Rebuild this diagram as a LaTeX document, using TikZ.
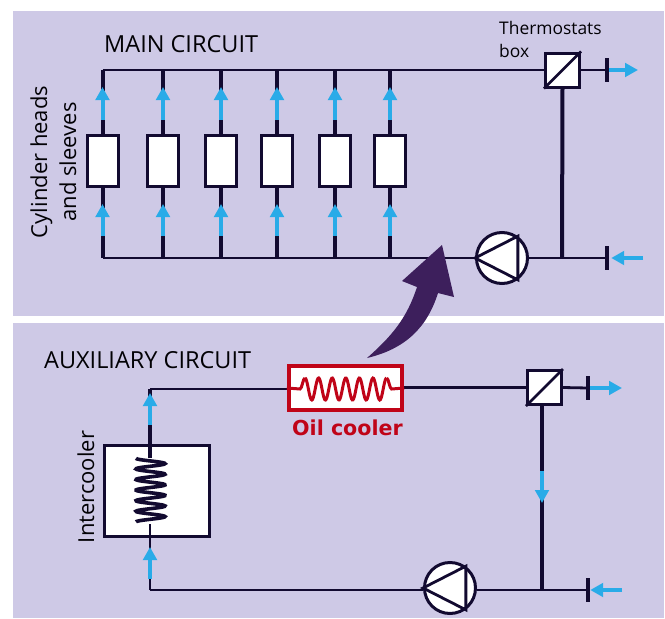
\documentclass[tikz,border=0pt]{standalone}
\usepackage{fontspec}
\setmainfont{Open Sans}
\newfontfamily\oilfont{DejaVu Sans}
\usetikzlibrary{arrows.meta}
\definecolor{panelcol}{RGB}{206,201,230}
\definecolor{linecol}{RGB}{18,10,48}
\definecolor{flowcol}{RGB}{41,171,232}
\definecolor{oilcol}{RGB}{192,4,24}
\definecolor{swoopcol}{RGB}{61,31,92}
\begin{document}
\begin{tikzpicture}[x=1pt, y=-1pt,
  pipe/.style = {draw=linecol, line width=2.8pt},
  branch/.style = {draw=linecol, line width=4pt},
  flow/.style = {draw=flowcol, line width=4pt,
    -{Triangle[length=13pt,width=13.5pt]}},
  cyl/.style = {shape=rectangle, draw=linecol, fill=white, line width=3pt,
    minimum width=31pt, minimum height=51pt, inner sep=0pt},
  valve/.style = {shape=rectangle, draw=linecol, fill=white, line width=3pt,
    minimum size=34pt, inner sep=0pt},
  pump/.style = {shape=circle, draw=linecol, fill=white, line width=3pt,
    minimum size=51pt, inner sep=0pt},
  stub/.style = {shape=rectangle, fill=linecol,
    minimum width=4pt, minimum height=24pt, inner sep=0pt},
  title/.style = {text=black!90!linecol, font=\fontsize{23.5}{28}\selectfont, inner sep=0pt},
  label/.style = {text=black!90!linecol, font=\fontsize{22}{26}\selectfont, inner sep=0pt},
  small/.style = {text=black!90!linecol, font=\fontsize{17.4}{23}\selectfont, inner sep=0pt},
  ]
  \useasboundingbox (0,0) rectangle (665,619);
  \fill[panelcol] (13,11) rectangle (664,316);
  \fill[panelcol] (13,323) rectangle (664,618);

  \node[title, anchor=base west] (maintitle) at (104,52) {MAIN CIRCUIT};
  \node[title, anchor=base west] (auxtitle) at (44,368) {AUXILIARY CIRCUIT};
  \node[small, anchor=base west] (thermo) at (499,34) {Thermostats};
  \node[small, anchor=base west] (thermob) at (499,57) {box};
  \node[label, anchor=base, rotate=90] (cylhead) at (47,162) {Cylinder heads};
  \node[label, anchor=base, rotate=90] (cylsleeve) at (76,162) {and sleeves};
  \node[label, anchor=base, rotate=90] (inter) at (94,487) {Intercooler};
  \node[anchor=base west, inner sep=0pt, text=oilcol,
    font=\oilfont\bfseries\fontsize{20.6}{24}\selectfont] (oillabel) at (292,435) {Oil cooler};

  \node[valve] (valvemain) at (562.5,70) {};
  \node[pump] (pumpmain) at (502,258) {};
  \node[stub] (outmain) at (607,70) {};
  \node[stub] (inmain) at (607,258) {};
  \coordinate (topleft) at (102.5,70);
  \coordinate (botleft) at (102.5,258);
  \coordinate (teemain) at (562,258);
  \draw[pipe] (botleft) -- (pumpmain.west);
  \draw[pipe] (pumpmain.east) -- (inmain);
  \draw[pipe] (topleft) -- (valvemain.west);
  \draw[pipe] (valvemain.east) -- (outmain);
  \draw[branch] (valvemain.south) -- (teemain);
  \draw[linecol, line width=2.8pt] (valvemain.south west) -- (valvemain.north east);
  \draw[linecol, line width=2.8pt] (pumpmain.west) -- (pumpmain.54) -- (pumpmain.-54) -- cycle;

  \foreach \i/\x in {1/102.5, 2/163, 3/221, 4/277, 5/335, 6/390} {
    \node[cyl] (cyl\i) at (\x,161) {};
    \coordinate (top\i) at (\x,70);
    \coordinate (bot\i) at (\x,258);
    \draw[branch] (top\i) -- (cyl\i.north);
    \draw[branch] (cyl\i.south) -- (bot\i);
    \draw[flow] ([yshift=14pt]cyl\i.north) -- ([yshift=-17pt]top\i);
    \draw[flow] ([yshift=22pt]bot\i) -- ([yshift=54pt]bot\i);
  }

  \coordinate (flowout) at (638,70);
  \coordinate (flowin) at (643,258);
  \draw[flow] (outmain.east) -- (flowout);
  \draw[flow] (flowin) -- ([xshift=2pt]inmain.east);

  \node[valve] (valveaux) at (544.5,387.5) {};
  \node[pump] (pumpaux) at (450,588) {};
  \node[stub] (outaux) at (588,388) {};
  \node[stub] (inaux) at (588,590) {};
  \node[shape=rectangle, draw=oilcol, fill=white, line width=4.4pt,
    minimum width=113pt, minimum height=44pt, inner sep=0pt] (oilcooler) at (345.5,388) {};
  \node[shape=rectangle, draw=linecol, fill=white, line width=3pt,
    minimum width=105.5pt, minimum height=91.5pt, inner sep=0pt] (intercooler) at (157,491) {};
  \coordinate (auxtop) at (150,389);
  \coordinate (auxbot) at (150,590);
  \coordinate (coiltop) at (150,458);
  \coordinate (coilbot) at (150,524);
  \coordinate (teeaux) at (542,590);
  \draw[pipe] (auxbot) -- (pumpaux.west |- auxbot);
  \draw[pipe] (pumpaux.east |- inaux) -- (inaux);
  \draw[pipe] (auxtop) -- (auxtop -| oilcooler.west);
  \draw[pipe] (oilcooler.east |- valveaux) -- (valveaux.west);
  \draw[pipe] (valveaux.east) -- (outaux);
  \draw[pipe, line width=3.2pt] (valveaux.south -| teeaux) -- (teeaux);
  \draw[branch] (auxtop) -- (coiltop);
  \draw[pipe] (auxbot) -- (coilbot);
  \draw[linecol, line width=2.8pt] (valveaux.south west) -- (valveaux.north east);
  \draw[linecol, line width=2.8pt] (pumpaux.west) -- (pumpaux.54) -- (pumpaux.-54) -- cycle;

  \draw[linecol, line width=3.6pt, smooth, samples=120, domain=0:6]
    plot ({150.5-14.5*cos(360*\x)},{458.3+10.6*\x});
  \draw[oilcol, line width=3pt] (oilcooler.west) -- (300,389)
    .. controls (302,389) and (303,378) .. (305,378);
  \draw[oilcol, line width=3pt, smooth, samples=120, domain=0:6]
    plot ({305+13.6*\x},{389-11*cos(360*\x)});
  \draw[oilcol, line width=3pt] (386.6,378)
    .. controls (388.6,378) and (389.6,389) .. (391.6,389) -- (oilcooler.east);

  \coordinate (flowoutaux) at (622,388);
  \coordinate (flowinaux) at (622,590);
  \coordinate (flowdowna) at (542,471);
  \coordinate (flowdownb) at (542,503);
  \draw[flow] (outaux.east) -- (flowoutaux);
  \draw[flow] (flowinaux) -- (inaux.east);
  \draw[flow] (flowdowna) -- (flowdownb);
  \draw[flow] ([yshift=11pt]auxbot) -- ([yshift=43pt]auxbot);
  \draw[flow] ([yshift=-36pt]auxtop) -- ([yshift=-4pt]auxtop);

  \fill[swoopcol] (442,245) -- (454,297) -- (438,293)
    .. controls (427,328) and (405,349) .. (367,358)
    .. controls (392,336) and (407,318) .. (417,287)
    -- (402,281) -- cycle;
\end{tikzpicture}
\end{document}
